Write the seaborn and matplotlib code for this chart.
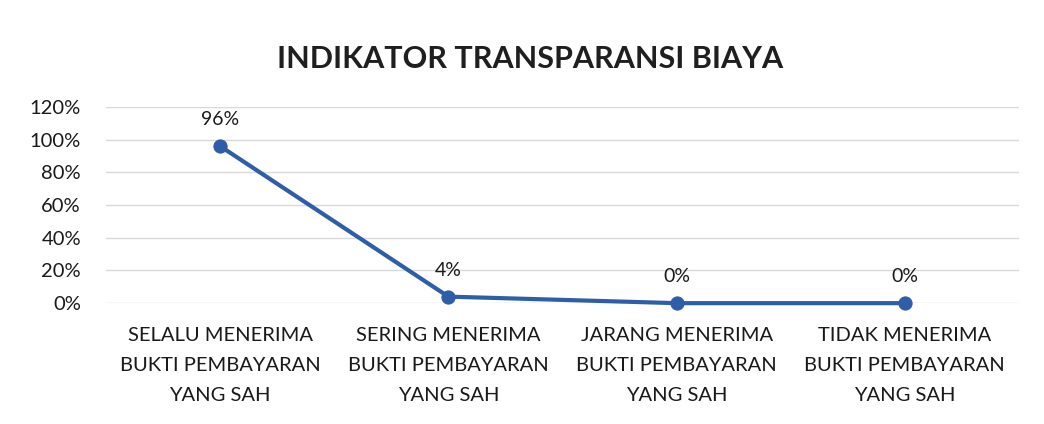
import matplotlib
matplotlib.use("Agg")
import matplotlib.pyplot as plt
import seaborn as sns
import pandas as pd
from matplotlib.ticker import PercentFormatter

categories = [
    "SELALU MENERIMA\nBUKTI PEMBAYARAN\nYANG SAH",
    "SERING MENERIMA\nBUKTI PEMBAYARAN\nYANG SAH",
    "JARANG MENERIMA\nBUKTI PEMBAYARAN\nYANG SAH",
    "TIDAK MENERIMA\nBUKTI PEMBAYARAN\nYANG SAH",
]
values = [0.96, 0.04, 0.0, 0.0]
value_labels = ["96%", "4%", "0%", "0%"]
yticks = [0, 0.2, 0.4, 0.6, 0.8, 1.0, 1.2]
title = "INDIKATOR TRANSPARANSI BIAYA"

sns.set_theme(style="white")
plt.rcParams["font.family"] = ["Lato", "DejaVu Sans"]

df = pd.DataFrame({"cat": categories, "val": values, "x": range(len(categories))})

fig = plt.figure(figsize=(10.44, 4.24), dpi=100)
ax = fig.add_axes([0.1015, 0.285, 0.8745, 0.463])
color = "#2F5EA8"
sns.lineplot(data=df, x="x", y="val", ax=ax, color=color, linewidth=3.0,
             marker="o", markersize=9.5, markeredgecolor=color,
             markerfacecolor=color, zorder=3)
for i, (v, lab) in enumerate(zip(values, value_labels)):
    ax.annotate(lab, (i, v), xytext=(0, 13), textcoords="offset points",
                ha="center", va="bottom", fontsize=14, color="#1a1a1a")

ax.set_xlim(-0.5, len(categories) - 0.5)
ax.set_ylim(0, 1.2)
ax.set_yticks(yticks)
ax.yaxis.set_major_formatter(PercentFormatter(1.0, decimals=0))
ax.set_xticks(range(len(categories)))
ax.set_xticklabels(categories, fontsize=14.5, color="#1a1a1a", linespacing=1.95)
ax.tick_params(axis="y", labelsize=14.5, colors="#1a1a1a", pad=18, length=0)
ax.tick_params(axis="x", pad=17, length=0)
ax.set_xlabel("")
ax.set_ylabel("")
ax.grid(axis="y", color="#d9d9d9", linewidth=1)
for s in ax.spines.values():
    s.set_visible(False)
for line in ax.lines:
    line.set_clip_on(False)

fig.text(0.508, 0.862, title, ha="center", va="center", fontsize=22,
         fontweight="bold", color="#1f1f1f")
fig.savefig("out.png", dpi=100, facecolor="white")
